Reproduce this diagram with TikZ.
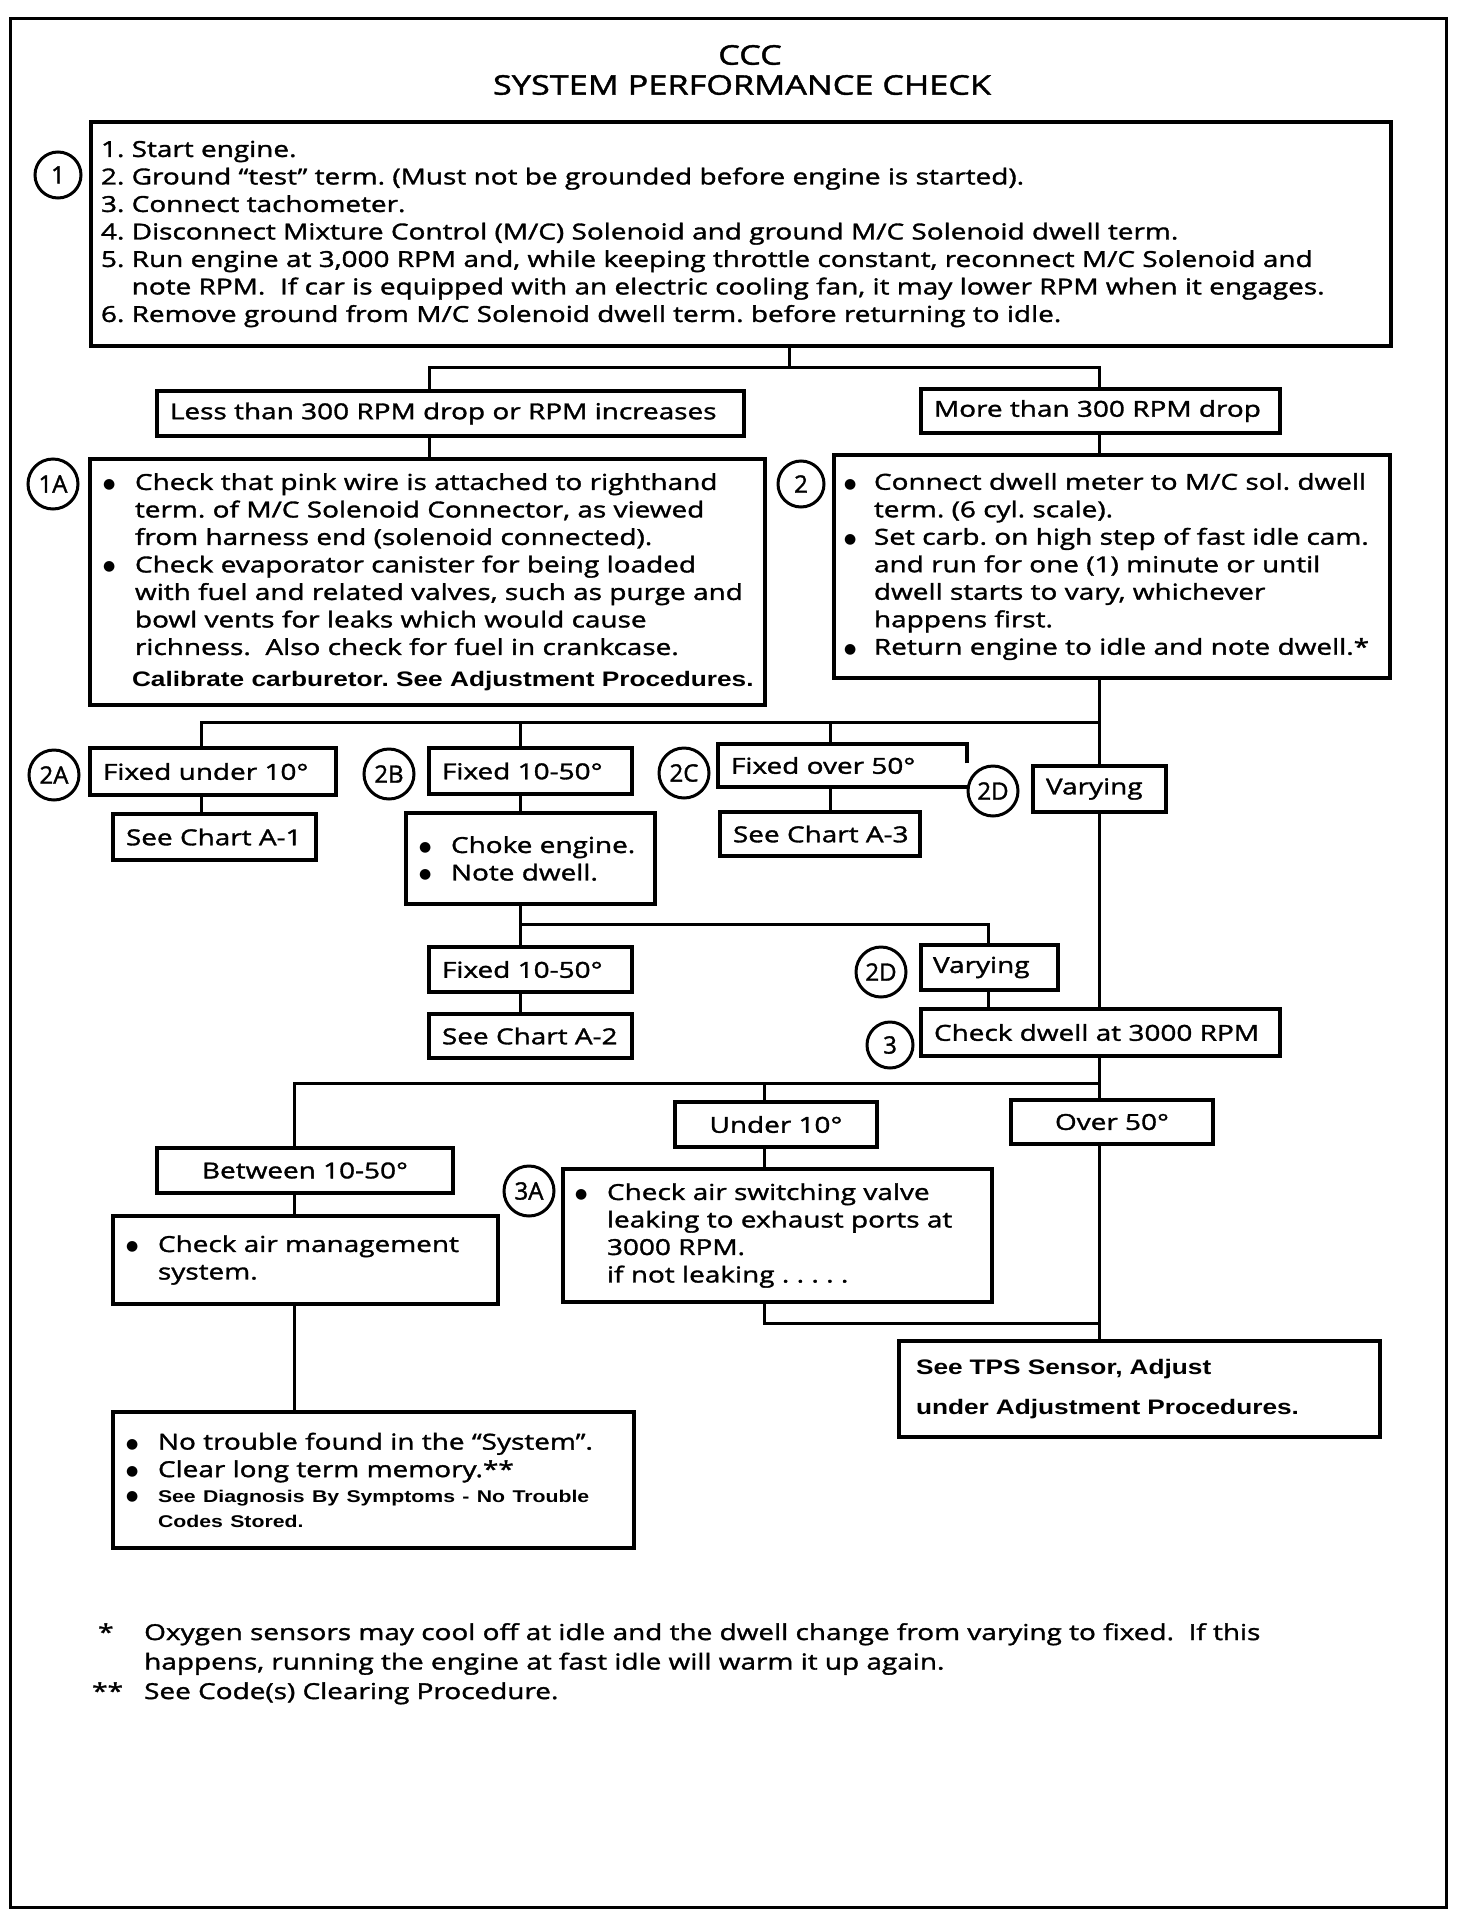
\documentclass[tikz,border=0pt]{standalone}
\usepackage{fontspec}
\usepackage{graphicx}
\usetikzlibrary{calc}
\newfontfamily\osans{Open Sans}[FakeStretch=1.27, FakeBold=1.5]
\newfontfamily\onum{Open Sans}[FakeBold=1.5]
\newfontfamily\lsans{Liberation Sans}[FakeStretch=1.25]
\newfontfamily\dvs{DejaVu Sans}
\newcommand\bodyfont{\osans\fontsize{22}{27.5}\selectfont\frenchspacing}
\newcommand\bfnt{\lsans\bfseries}
\newcommand\bulglyph{\raisebox{1.6pt}{\dvs\fontsize{14}{14}\selectfont ●}}
\newcommand\bul{\makebox[32pt][l]{\bulglyph}}
\newcommand\ind{\hspace*{32pt}}
\newcommand\bulb{\makebox[30pt][l]{\bulglyph}}
\newcommand\indb{\hspace*{30pt}}
\begin{document}
\begin{tikzpicture}[x=1pt,y=-1pt,
  box/.style={draw, line width=4.2pt, inner sep=0pt, font=\bodyfont},
  lbox/.style={box, align=left, inner xsep=0pt},
  conn/.style={line width=3pt},
  num/.style={circle, draw, line width=3pt, inner sep=0pt, font=\onum\fontsize{24}{24}\selectfont},
  lbl/.style={inner sep=0pt, font=\bodyfont},
]
\useasboundingbox (0,0) rectangle (1472,1930);
\fill[white] (0,0) rectangle (1472,1930);
\draw[line width=3pt] (10,18) rectangle (1446,1907);

% title
\node[lbl, font=\osans\fontsize{27}{27}\selectfont] (ccc) at (750,55) {CCC};
\node[lbl, font=\osans\fontsize{27}{27}\selectfont] (title) at (742,85) {SYSTEM PERFORMANCE CHECK};

% step 1
\node[lbox, minimum width=1300pt, minimum height=224pt, text width=1300pt] (b1) at (741,234) {%
\leftskip=10pt\relax
1. Start engine.\\
2. Ground “test” term. (Must not be grounded before engine is started).\\
3. Connect tachometer.\\
4. Disconnect Mixture Control (M/C) Solenoid and ground M/C Solenoid dwell term.\\
5. Run engine at 3,000 RPM and, while keeping throttle constant, reconnect M/C Solenoid and\\
\phantom{5. }note RPM.\ \ If car is equipped with an electric cooling fan, it may lower RPM when it engages.\\
6. Remove ground from M/C Solenoid dwell term. before returning to idle.\par};
\node[num, minimum size=46pt] (c1) at (58,175) {1};

\node[lbox, minimum width=587pt, minimum height=45pt, text width=587pt] (bl) at (450.5,413.5) {\leftskip=13pt\relax Less than 300 RPM drop or RPM increases\par};
\node[lbox, minimum width=359pt, minimum height=44pt, text width=359pt] (bm) at (1100.5,411) {\leftskip=13pt\relax More than 300 RPM drop\par};

% 1A
\node[lbox, minimum width=675pt, minimum height=246pt, text width=675pt] (b1A) at (427.5,582) {%
\leftskip=13pt\relax
\bul Check that pink wire is attached to righthand\\
\ind term. of M/C Solenoid Connector, as viewed\\
\ind from harness end (solenoid connected).\\
\bul Check evaporator canister for being loaded\\
\ind with fuel and related valves, such as purge and\\
\ind bowl vents for leaks which would cause\\
\ind richness.\ \ Also check for fuel in crankcase.\\[4pt]
\hspace*{29pt}{\bfnt\fontsize{21}{24}\selectfont Calibrate carburetor. See Adjustment Procedures.}\par};
\node[num, minimum size=50pt] (c1A) at (53,484) {1A};

% 2
\node[lbox, minimum width=556pt, minimum height=223pt, text width=556pt] (b2) at (1112,566.5) {%
\leftskip=10pt\relax
\bulb Connect dwell meter to M/C sol. dwell\\
\indb term. (6 cyl. scale).\\
\bulb Set carb. on high step of fast idle cam.\\
\indb and run for one (1) minute or until\\
\indb dwell starts to vary, whichever\\
\indb happens first.\\
\bulb Return engine to idle and note dwell.*\par};
\node[num, minimum size=46pt] (c2) at (801,484) {2};

% row 2A-2D
\node[lbox, minimum width=246pt, minimum height=47pt, text width=246pt] (f1) at (213,771.5) {\leftskip=13pt\relax Fixed under 10°\par};
\node[num, minimum size=50pt] (c2A) at (54,775) {2A};
\node[lbox, minimum width=203pt, minimum height=46pt, text width=203pt] (f2) at (530.5,771) {\leftskip=13pt\relax Fixed 10-50°\par};
\node[num, minimum size=50pt] (c2B) at (389,774) {2B};
\node[lbox, draw=none, outer sep=0pt, minimum width=249pt, minimum height=43pt, text width=249pt] (f3) at (842.5,765.5) {\leftskip=13pt\relax Fixed over 50°\par};
\draw[line width=4.2pt] ($(f3.north east)!0.45!(f3.south east)$) -- (f3.north east) -- (f3.north west) -- (f3.south west) -- (f3.south east);
\node[num, minimum size=50pt] (c2C) at (684,773) {2C};
\node[num, minimum size=50pt] (c2Du) at (993,791) {2D};
\node[lbox, minimum width=133pt, minimum height=46pt, text width=133pt] (v1) at (1099.5,789) {\leftskip=13pt\relax Varying\par};

\node[lbox, minimum width=203pt, minimum height=46pt, text width=203pt] (sA1) at (214.5,837) {\leftskip=13pt\relax See Chart A-1\par};
\node[lbox, minimum width=249pt, minimum height=91pt, text width=249pt] (choke) at (530.5,858.5) {%
\leftskip=13pt\relax
\bul Choke engine.\\
\bul Note dwell.\\[8pt]\par};
\node[lbox, minimum width=200pt, minimum height=44pt, text width=200pt] (sA3) at (820,834) {\leftskip=13pt\relax See Chart A-3\par};

\node[lbox, minimum width=203pt, minimum height=45pt, text width=203pt] (f4) at (530.5,969.5) {\leftskip=13pt\relax Fixed 10-50°\par};
\node[lbox, minimum width=203pt, minimum height=44pt, text width=203pt] (sA2) at (530.5,1036) {\leftskip=13pt\relax See Chart A-2\par};
\node[lbox, minimum width=137pt, minimum height=45pt, text width=137pt] (v2) at (989.5,967.5) {\leftskip=12pt\relax Varying\par};
\node[num, minimum size=50pt] (c2Dl) at (881,972) {2D};
\node[lbox, minimum width=359pt, minimum height=47pt, text width=359pt] (cd) at (1100.5,1032.5) {\leftskip=13pt\relax Check dwell at 3000 RPM\par};
\node[num, minimum size=46pt] (c3) at (890,1045) {3};

% 3 branches
\node[box, minimum width=202pt, minimum height=45pt] (u10) at (776,1124.5) {Under 10°};
\node[box, minimum width=202pt, minimum height=44pt] (o50) at (1112,1122) {Over 50°};
\node[box, minimum width=296pt, minimum height=45pt] (bt) at (305,1170.5) {Between 10-50°};
\node[lbox, minimum width=385pt, minimum height=88pt, text width=385pt] (cam) at (305.5,1260) {%
\leftskip=13pt\relax
\bul Check air management\\
\ind system.\\[4pt]\par};
\node[lbox, minimum width=429pt, minimum height=133pt, text width=429pt] (asv) at (777.5,1235.5) {%
\leftskip=12pt\relax
\bul Check air switching valve\\
\ind leaking to exhaust ports at\\
\ind 3000 RPM.\\
\ind if not leaking . . . . .\par};
\node[num, minimum size=50pt] (c3A) at (529,1191) {3A};
\node[lbox, minimum width=481pt, minimum height=96pt, text width=481pt, font=\bfnt\fontsize{21}{40}\selectfont] (tps) at (1139.5,1389) {%
\leftskip=17pt\relax
See TPS Sensor, Adjust\\
under Adjustment Procedures.\par};
\node[lbox, minimum width=521pt, minimum height=136pt, text width=521pt] (nt) at (373.5,1480) {%
\leftskip=13pt\relax
\bul No trouble found in the “System”.\\
\bul Clear long term memory.**\par
{\bfnt\fontsize{17}{25}\selectfont\bul See Diagnosis By Symptoms - No Trouble\\
\ind Codes Stored.\par}};

% connectors
\coordinate (j1) at (789,367);
\coordinate (jL) at (429,367);
\coordinate (jR) at (1099,367);
\draw[conn] (b1.south -| j1) -- (j1);
\draw[conn] (bl.north -| jL) -- (jL) -- (jR) -- (bm.north -| jR);
\draw[conn] (bl.south -| jL) -- (b1A.north -| jL);
\draw[conn] (bm.south -| jR) -- (b2.north -| jR);
\draw[conn] (b2.south -| jR) -- (v1.north -| jR);
\coordinate (k1) at (201,722);
\coordinate (k2) at (520,722);
\coordinate (k3) at (830,722);
\coordinate (k4) at (1099,722);
\draw[conn] (f1.north -| k1) -- (k1) -- (k4);
\draw[conn] (k2) -- (f2.north -| k2);
\draw[conn] (k3) -- (f3.north -| k3);
\draw[conn] (f1.south -| k1) -- (sA1.north -| k1);
\draw[conn] (f2.south -| k2) -- (choke.north -| k2);
\draw[conn] (f3.south -| k3) -- (sA3.north -| k3);
\draw[line width=4.2pt] (f3.south east) -- (c2Du.west |- f3.south east);
\draw[conn] (v1.south -| jR) -- (cd.north -| jR);
\coordinate (m1) at (520,924);
\coordinate (m2) at (988,924);
\draw[conn] (choke.south -| m1) -- (f4.north -| m1);
\draw[conn] (m1) -- (m2) -- (v2.north -| m2);
\draw[conn] (f4.south -| m1) -- (sA2.north -| m1);
\draw[conn] (v2.south -| m2) -- (cd.north -| m2);
\coordinate (n1) at (294,1083);
\coordinate (n2) at (764,1083);
\coordinate (n3) at (1099,1083);
\draw[conn] (cd.south -| n3) -- (n3) -- (n1) -- (bt.north -| n1);
\draw[conn] (n2) -- (u10.north -| n2);
\draw[conn] (n3) -- (o50.north -| n3);
\draw[conn] (u10.south -| n2) -- (asv.north -| n2);
\coordinate (p1) at (764,1323);
\coordinate (p2) at (1099,1323);
\draw[conn] (asv.south -| p1) -- (p1) -- (p2);
\draw[conn] (o50.south -| p2) -- (tps.north -| p2);
\draw[conn] (bt.south -| n1) -- (cam.north -| n1);
\draw[conn] (cam.south -| n1) -- (nt.north -| n1);

% footnotes
\node[anchor=north west, inner sep=0pt, font=\osans\fontsize{22}{29.5}\selectfont\frenchspacing, align=left] (fn) at (92,1623) {%
\makebox[52pt][l]{\hspace*{6pt}*}Oxygen sensors may cool off at idle and the dwell change from varying to fixed.\ \ If this\\
\hspace*{52pt}happens, running the engine at fast idle will warm it up again.\\
\makebox[52pt][l]{**}See Code(s) Clearing Procedure.};
\end{tikzpicture}
\end{document}
